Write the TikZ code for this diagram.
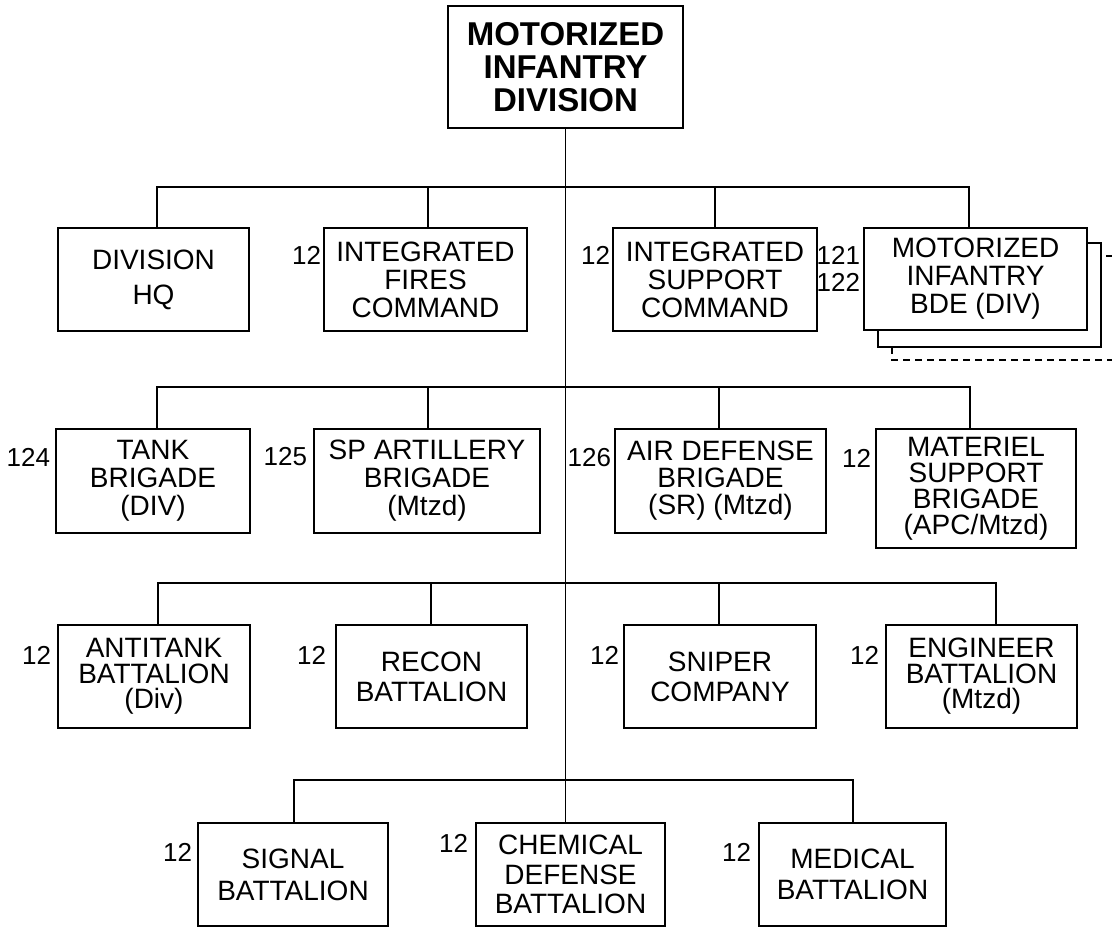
\documentclass[tikz,border=0pt]{standalone}
\usepackage{fontspec}
\setmainfont{Liberation Sans}
\newcommand\obox[7][]{%
  \node[box,#1,minimum width={(#5-#3)*1pt},minimum height={(#6-#4)*1pt}] (#2) at ({(#3+#5)/2},{(#4+#6)/2}) {#7};}
\begin{document}
\begin{tikzpicture}[x=1pt,y=-1pt,line width=1.9pt,
  box/.style={draw,fill=white,inner sep=0pt,align=center,font=\fontsize{28}{28}\selectfont},
  num/.style={anchor=east,inner sep=0pt,font=\fontsize{26}{26}\selectfont},
  stackline/.style={draw,fill=white},
  dashline/.style={draw,dash pattern=on 7pt off 5pt}]
\useasboundingbox (0,0) rectangle (1112,927);

% title
\obox[font=\bfseries\fontsize{33}{33}\selectfont]{top}{448}{6}{683}{128}{MOTORIZED\\INFANTRY\\DIVISION}

% row 1
\obox[font=\fontsize{28}{35}\selectfont]{hq}{58}{228}{249}{331}{DIVISION\\HQ}
\obox{ifc}{324}{228}{527}{331}{INTEGRATED\\FIRES\\COMMAND}
\obox{isc}{613}{228}{817}{331}{INTEGRATED\\SUPPORT\\COMMAND}
\path[dashline] (1125,256) -- (892,256) -- (892,360) -- (1125,360);
\path[stackline] (878,243) rectangle (1101,347);
\obox{mib}{864}{228}{1087}{330}{MOTORIZED\\INFANTRY\\BDE (DIV)}

% row 2
\obox{tank}{56}{429}{250}{533}{TANK\\BRIGADE\\(DIV)}
\obox{spa}{314}{429}{540}{533}{SP ARTILLERY\\BRIGADE\\(Mtzd)}
\obox[font=\fontsize{28}{27}\selectfont]{ad}{615}{429}{826}{533}{AIR DEFENSE\\BRIGADE\\(SR) (Mtzd)}
\obox[font=\fontsize{28}{26}\selectfont]{mat}{876}{429}{1076}{548}{MATERIEL\\SUPPORT\\BRIGADE\\(APC/Mtzd)}

% row 3
\obox[font=\fontsize{28}{25.5}\selectfont]{at}{58}{625}{250}{728}{ANTITANK\\BATTALION\\(Div)}
\obox[font=\fontsize{28}{30}\selectfont]{recon}{336}{625}{527}{728}{RECON\\BATTALION}
\obox[font=\fontsize{28}{30}\selectfont]{sniper}{624}{625}{816}{728}{SNIPER\\COMPANY}
\obox[font=\fontsize{28}{25.5}\selectfont]{eng}{886}{625}{1077}{728}{ENGINEER\\BATTALION\\(Mtzd)}

% row 4
\obox[font=\fontsize{28}{32}\selectfont]{sig}{198}{823}{388}{926}{SIGNAL\\BATTALION}
\obox[font=\fontsize{28}{29.5}\selectfont]{chem}{476}{823}{665}{926}{CHEMICAL\\DEFENSE\\BATTALION}
\obox[font=\fontsize{28}{31}\selectfont]{med}{759}{823}{946}{926}{MEDICAL\\BATTALION}

% numbers
\node[num] (nifc) at (322,255) {12};
\node[num] (nisc) at (611,255) {12};
\node[num] (nmiba) at (861,255) {121};
\node[num] (nmibb) at (861,282) {122};
\node[num] (ntank) at (51,457) {124};
\node[num] (nspa) at (308,457) {125};
\node[num] (nad) at (612,458) {126};
\node[num] (nmat) at (872,458) {12};
\node[num] (nat) at (52,655) {12};
\node[num] (nrecon) at (327,655) {12};
\node[num] (nsniper) at (620,655) {12};
\node[num] (neng) at (880,655) {12};
\node[num] (nsig) at (193,852) {12};
\node[num] (nchem) at (469,843) {12};
\node[num] (nmed) at (752,852) {12};

% bus junctions
\coordinate (d11) at (157,187); \coordinate (d12) at (428,187);
\coordinate (d13) at (715,187); \coordinate (d14) at (969,187);
\coordinate (d21) at (157,387); \coordinate (d22) at (428,387);
\coordinate (d23) at (719,387); \coordinate (d24) at (970,387);
\coordinate (d31) at (158,583); \coordinate (d32) at (431,583);
\coordinate (d33) at (719,583); \coordinate (d34) at (996,583);
\coordinate (d41) at (294,780); \coordinate (d42) at (853,780);

% connectors
\draw (top.south) -- (top.south |- chem.north);
\draw (hq.north -| d11) -- (d11) -- (d14) -- (mib.north -| d14);
\draw (d12) -- (ifc.north -| d12);
\draw (d13) -- (isc.north -| d13);
\draw (tank.north -| d21) -- (d21) -- (d24) -- (mat.north -| d24);
\draw (d22) -- (spa.north -| d22);
\draw (d23) -- (ad.north -| d23);
\draw (at.north -| d31) -- (d31) -- (d34) -- (eng.north -| d34);
\draw (d32) -- (recon.north -| d32);
\draw (d33) -- (sniper.north -| d33);
\draw (sig.north -| d41) -- (d41) -- (d42) -- (med.north -| d42);
\end{tikzpicture}
\end{document}
